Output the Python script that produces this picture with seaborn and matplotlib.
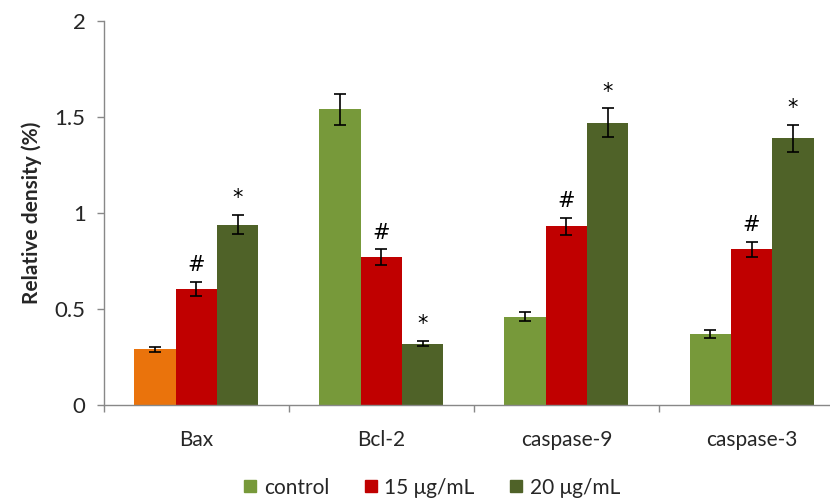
import matplotlib
matplotlib.use("Agg")
import matplotlib.pyplot as plt
from matplotlib.lines import Line2D
import seaborn as sns
import pandas as pd
import numpy as np

categories = ["Bax", "Bcl-2", "caspase-9", "caspase-3"]
groups = ["control", "15 μg/mL", "20 μg/mL"]
control = [0.29, 1.54, 0.46, 0.37]
dose15 = [0.605, 0.77, 0.93, 0.81]
dose20 = [0.94, 0.32, 1.47, 1.39]
err_control = [0.012, 0.08, 0.022, 0.02]
err15 = [0.035, 0.04, 0.045, 0.04]
err20 = [0.05, 0.015, 0.075, 0.07]
marks15 = ["#", "#", "#", "#"]
marks20 = ["*", "*", "*", "*"]

colors = ["#77993a", "#c00000", "#4f6228"]
bax_control_color = "#ea730c"

sns.set_theme(style="white")
plt.rcParams["font.family"] = ["Lato", "DejaVu Sans"]

df = pd.DataFrame({
    "gene": categories * 3,
    "group": [groups[0]] * 4 + [groups[1]] * 4 + [groups[2]] * 4,
    "value": control + dose15 + dose20,
})
errs = err_control + err15 + err20
marks = [""] * 4 + marks15 + marks20

fig = plt.figure(figsize=(8.3, 5.0), dpi=100)
ax = fig.add_axes([0.125, 0.19, 0.892, 0.768])
sns.barplot(data=df, x="gene", y="value", hue="group", order=categories,
            hue_order=groups, palette=colors, width=0.67, errorbar=None,
            saturation=1, ax=ax, legend=False, linewidth=0)

bars = [p for p in ax.patches if p.get_height() > 0]
bars = sorted(bars, key=lambda p: p.get_x())
vals_ordered = []
for i in range(4):
    for g in range(3):
        vals_ordered.append(g * 4 + i)
for p, idx in zip(bars, vals_ordered):
    cx = p.get_x() + p.get_width() / 2
    h = p.get_height()
    e = errs[idx]
    ax.errorbar(cx, h, yerr=e, fmt="none", ecolor="black", elinewidth=1.2,
                capsize=4.5, capthick=1.2)
    if idx == 0:
        p.set_facecolor(bax_control_color)
    if marks[idx]:
        ax.text(cx, h + e + 0.035, marks[idx], ha="center", va="bottom",
                fontsize=15, color="black", family="DejaVu Sans")

ax.set_ylim(0, 2)
ax.set_xlim(-0.5, 3.5)
ax.set_yticks([0, 0.5, 1, 1.5, 2])
ax.set_yticklabels(["0", "0.5", "1", "1.5", "2"], fontsize=16)
ax.set_xticks(range(4))
ax.set_xticklabels(categories, fontsize=15)
ax.set_xticks([-0.5, 0.5, 1.5, 2.5, 3.5], minor=True)
ax.tick_params(axis="x", which="major", length=0, pad=18)
ax.tick_params(axis="x", which="minor", length=5, color="#888888", width=1, direction="out", bottom=True)
ax.tick_params(axis="y", which="major", length=5, color="#888888", width=1, direction="out", left=True, pad=8)
ax.set_xlabel("")
ax.set_ylabel("Relative density (%)", fontsize=15, fontweight="bold", labelpad=9)
for s in ["top", "right"]:
    ax.spines[s].set_visible(False)
for s in ["left", "bottom"]:
    ax.spines[s].set_color("#888888")
    ax.spines[s].set_linewidth(1)

handles = [Line2D([], [], marker="s", linestyle="none", markersize=9,
                  markerfacecolor=c, markeredgecolor=c) for c in colors]
fig.legend(handles, groups, loc="center", bbox_to_anchor=(0.517, 0.025), ncol=3,
           frameon=False, fontsize=15, handletextpad=0.05, columnspacing=1.4,
           handlelength=1.2)

fig.savefig("out.png", dpi=100)
